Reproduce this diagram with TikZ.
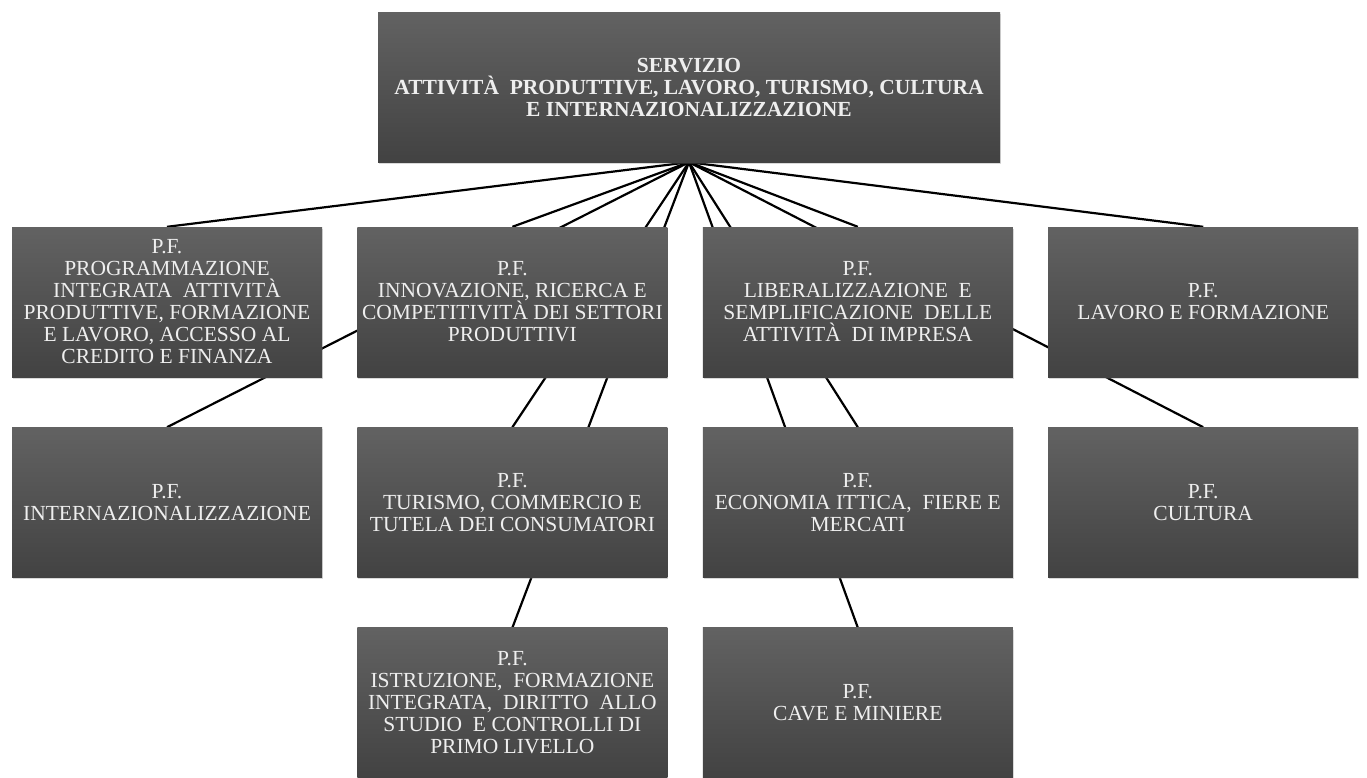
\documentclass[tikz,border=0pt]{standalone}
\usepackage{fontspec}
\setmainfont{Liberation Serif}
\usepackage{tikz}
\usetikzlibrary{positioning, backgrounds, shadows}
\usepackage{xcolor}
\definecolor{boxtop}{RGB}{98,98,98}
\definecolor{boxmid}{RGB}{82,82,82}
\definecolor{boxbot}{RGB}{66,66,66}
\definecolor{boxtext}{RGB}{238,238,238}

\begin{document}
\begin{tikzpicture}[
    x=1pt, y=1pt,
    node distance=50pt and 35pt,
    box/.style={top color=boxtop, middle color=boxmid, bottom color=boxbot, minimum width=310pt, minimum height=150pt, inner sep=1pt, align=center, text=boxtext, font=\fontsize{21.5}{22}\selectfont, drop shadow={opacity=0.3, shadow xshift=1pt, shadow yshift=-2pt}},
    head/.style={box, minimum width=622pt, font=\bfseries\fontsize{21.5}{22}\selectfont},
    link/.style={line width=2.2pt, black}
  ]
  \useasboundingbox (0,0) rectangle (1367,-777);
  \node[head] (servizio) at (689,-87) {SERVIZIO\\ATTIVITÀ\ \ PRODUTTIVE, LAVORO, TURISMO, CULTURA\\E INTERNAZIONALIZZAZIONE};
  \node[box] (prog) at (167,-302) {P.F.\\PROGRAMMAZIONE\\INTEGRATA\ \ ATTIVITÀ\\PRODUTTIVE, FORMAZIONE\\E LAVORO, ACCESSO AL\\CREDITO E FINANZA};
  \node[box, right=of prog] (innov) {P.F.\\INNOVAZIONE, RICERCA E\\COMPETITIVITÀ DEI SETTORI\\PRODUTTIVI};
  \node[box, right=of innov] (liber) {P.F.\\LIBERALIZZAZIONE\ \ E\\SEMPLIFICAZIONE\ \ DELLE\\ATTIVITÀ\ \ DI IMPRESA};
  \node[box, right=of liber] (lavoro) {P.F.\\LAVORO E FORMAZIONE};
  \node[box, below=of prog] (internaz) {P.F.\\INTERNAZIONALIZZAZIONE};
  \node[box, below=of innov] (turismo) {P.F.\\TURISMO, COMMERCIO E\\TUTELA DEI CONSUMATORI};
  \node[box, below=of liber] (ittica) {P.F.\\ECONOMIA ITTICA,\ \ FIERE E\\MERCATI};
  \node[box, below=of lavoro] (cultura) {P.F.\\CULTURA};
  \node[box, below=of turismo] (istruz) {P.F.\\ISTRUZIONE,\ \ FORMAZIONE\\INTEGRATA,\ \ DIRITTO\ \ ALLO\\STUDIO\ \ E CONTROLLI DI\\PRIMO LIVELLO};
  \node[box, below=of ittica] (cave) {P.F.\\CAVE E MINIERE};
  % connectors run behind the boxes
  \begin{pgfonlayer}{background}
    \draw[link] (servizio.south) -- (prog.north);
    \draw[link] (servizio.south) -- (innov.north);
    \draw[link] (servizio.south) -- (liber.north);
    \draw[link] (servizio.south) -- (lavoro.north);
    \draw[link] (servizio.south) -- (internaz.north);
    \draw[link] (servizio.south) -- (turismo.north);
    \draw[link] (servizio.south) -- (ittica.north);
    \draw[link] (servizio.south) -- (cultura.north);
    \draw[link] (servizio.south) -- (istruz.north);
    \draw[link] (servizio.south) -- (cave.north);
  \end{pgfonlayer}
\end{tikzpicture}
\end{document}
